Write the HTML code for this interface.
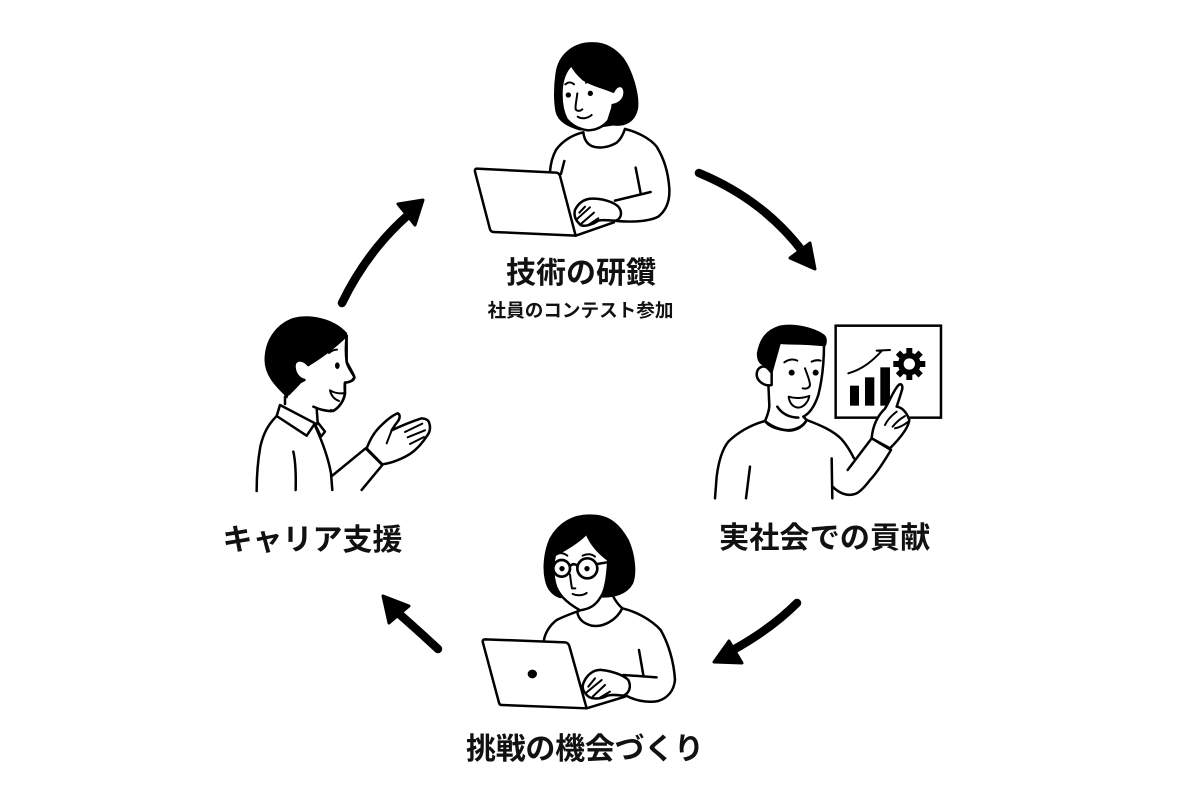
<!DOCTYPE html>
<html lang="ja"><head><meta charset="utf-8"><style>
html,body{margin:0;padding:0;background:#fff;width:1200px;height:793px;overflow:hidden}
svg{display:block}
text{font-family:"Liberation Sans","Noto Sans CJK JP",sans-serif;font-weight:700;fill:#111}
.l{fill:none;stroke:#000;stroke-width:7.5;stroke-linecap:round;stroke-linejoin:round}
.w{fill:#fff;stroke:#000;stroke-width:7.5;stroke-linecap:round;stroke-linejoin:round}
.k{fill:#000;stroke:#000;stroke-width:3;stroke-linejoin:round}
.t{fill:none;stroke:#000;stroke-width:6;stroke-linecap:round;stroke-linejoin:round}
</style></head><body>
<svg width="1200" height="793" viewBox="0 0 1200 793" xmlns="http://www.w3.org/2000/svg">
<rect width="1200" height="793" fill="#fff"/>

<!-- Figure 1 -->
<g transform="translate(460,30) scale(.3333)">
<path class="k" d="M400,38C340,36 295,75 288,130C282,170 282,215 288,245C295,275 325,290 360,300L460,285C495,290 525,275 533,235C538,190 515,120 490,85C465,55 435,38 400,38Z"/>
<path class="w" d="M335,105C318,120 308,145 305,175C303,205 305,240 320,268C335,285 355,298 385,301C410,300 430,290 445,272L460,225C485,220 497,200 493,180C488,163 470,163 460,185C430,172 395,165 370,148C355,135 342,120 335,105Z"/>
<path class="l" d="M458,225L456,282"/>
<circle cx="325" cy="195" r="8"/><circle cx="391" cy="190" r="8"/>
<path class="t" d="M316,163C325,155 335,156 342,163M378,158C390,152 402,155 412,163"/>
<path class="t" d="M352,190C350,210 345,228 347,238C352,245 362,243 367,238"/>
<path class="t" d="M353,260C365,268 382,266 395,255"/>
<path class="l" d="M370,307C372,325 378,340 395,348C420,358 450,350 470,338C482,328 490,312 495,297"/>
<path class="l" d="M370,307C335,315 305,335 288,360C278,378 272,400 270,425M495,297C530,305 570,325 590,350C612,385 625,430 628,475C630,510 620,540 595,560C565,575 520,577 470,573"/>
<path class="l" d="M313,393L303,432M527,413L542,490M465,512L572,486"/>
<path class="w" d="M50,416L288,428C295,428 298,432 300,438L347,617L100,606C95,606 92,602 90,598L45,425C44,419 46,416 50,416Z"/>
<path class="l" d="M347,617L462,577"/>
<path class="w" d="M345,540C355,520 370,507 395,506C425,505 460,515 475,530C488,545 485,565 468,572C450,572 430,568 415,572C400,582 375,592 362,585C350,575 340,560 345,540Z"/>
<path class="t" d="M358,548L375,530M350,568L390,532M365,580L402,548M385,585L415,565"/>
</g>

<!-- Figure 2 -->
<g transform="translate(700,310) scale(.3333)">
<rect x="407" y="47" width="316" height="276" fill="#fff" stroke="#000" stroke-width="7.5"/>
<rect x="450" y="227" width="27" height="60"/><rect x="495" y="202" width="28" height="85"/><rect x="541" y="172" width="29" height="115"/>
<path class="t" d="M445,190C490,177 520,150 545,123L530,122L570,120"/>
<g transform="translate(628,162)">
<circle r="34"/>
<g stroke="#000" stroke-width="18"><path d="M0,-48V48M-48,0H48M-34,-34L34,34M-34,34L34,-34"/></g>
<circle r="17" fill="#fff"/>
</g>
<path d="M195,335L320,330L420,380L462,445L515,385L573,420L510,510L470,552L430,555L398,530L397,565L45,565L60,440L120,365Z" fill="#fff"/>
<path class="w" d="M515,385C518,350 530,320 555,296C570,270 582,240 595,226C603,218 610,226 606,240C600,260 594,278 590,290C605,292 620,305 628,330C625,355 600,385 570,415Z"/>
<path class="t" d="M555,345C565,325 578,315 590,305M578,350C590,335 603,325 615,318M585,355C600,352 612,345 625,335"/>
<path class="l" d="M515,385L573,420C555,450 530,490 510,510C495,530 480,547 465,552C440,560 415,548 398,530"/>
<path class="l" d="M515,385L443,480"/>
<path class="l" d="M320,330C360,345 400,362 425,388C440,405 452,425 462,445M195,333C150,345 110,370 85,395C65,420 55,460 50,500L45,565M150,470L138,565M395,445L397,565"/>
<path class="l" d="M195,333C205,348 225,358 265,362C290,362 310,350 320,330"/>
<path class="w" d="M205,220L208,288C207,305 200,322 195,333C215,350 245,362 270,360C295,358 312,345 320,330L310,320C330,310 345,285 355,255C365,215 372,160 372,105L240,95Z"/>
<path class="k" d="M172,130C180,85 200,60 240,48C280,40 340,52 372,75C382,85 380,100 375,108C345,100 290,105 235,100C225,125 218,160 215,187L190,165C175,160 172,145 172,130Z"/>
<path class="w" d="M215,225C195,230 172,215 170,195C170,175 185,165 200,172C208,178 212,187 215,187Z"/>
<circle cx="275" cy="188" r="9"/><circle cx="347" cy="188" r="9"/>
<path class="t" d="M253,157C265,148 280,146 292,152M335,155C345,150 352,149 362,152"/>
<path class="t" d="M315,175C322,195 330,212 330,225C328,235 318,237 308,235"/>
<path d="M266,260C285,266 310,265 328,258C325,275 312,292 295,293C280,292 268,280 266,260Z" fill="#fff" stroke="#000" stroke-width="6" stroke-linejoin="round"/>
<path d="M232,290C245,310 265,322 295,323" class="l"/>
</g>

<!-- Figure 3 -->
<g transform="translate(470,505) scale(.3333)">
<path class="k" d="M370,30C310,25 265,55 240,100C222,140 218,190 226,225C232,255 250,272 270,278L395,276C430,278 470,268 488,235C500,205 495,150 475,105C450,60 420,32 370,30Z"/>
<path class="w" d="M350,85C325,112 290,132 255,150C248,175 248,205 255,235C262,265 285,290 330,316C355,312 375,305 392,276C405,260 412,225 415,165C395,150 365,125 350,85Z"/>
<path class="l" d="M430,275C438,290 448,302 457,310"/>
<path class="l" d="M322,322C325,340 338,355 365,362C400,368 440,345 457,310"/>
<path class="l" d="M330,316C322,320 290,330 260,345C238,362 225,385 222,405M457,310C500,320 545,345 572,375C595,415 612,470 615,525C612,555 595,578 565,588C530,595 490,585 465,570"/>
<path class="l" d="M507,435L520,510M460,510L560,517"/>
<path class="w" d="M45,403L285,412C292,413 296,417 298,423L350,610L95,600C90,600 88,597 87,593L38,410C38,405 41,403 45,403Z"/>
<ellipse cx="187" cy="507" rx="14" ry="13"/>
<path class="l" d="M350,610L465,575"/>
<path class="w" d="M340,535C350,510 370,493 395,495C425,498 460,510 475,525C485,545 478,565 460,572C440,570 425,568 412,572C395,582 365,585 352,572C340,560 335,550 340,535Z"/>
<path class="t" d="M355,545L375,520M350,562L395,525M368,575L405,540M390,578L420,560"/>
<circle cx="275" cy="190" r="25" fill="#fff" stroke="#000" stroke-width="8"/>
<circle cx="352" cy="190" r="30" fill="#fff" stroke="#000" stroke-width="8"/>
<path class="l" d="M300,183C308,176 315,176 322,182M382,177L412,172"/>
<circle cx="276" cy="191" r="8"/><circle cx="351" cy="191" r="8"/>
<path class="t" d="M255,150C265,142 280,142 292,152M338,152C350,146 365,146 375,155"/>
<path class="t" d="M300,208C302,225 304,240 306,250L316,250"/>
<path class="t" d="M308,267C322,273 338,272 350,264"/>
</g>

<!-- Figure 4 -->
<g transform="translate(245,305) scale(.3333)">
<path class="k" d="M60,165C60,110 90,60 145,40C195,28 265,40 305,85L300,105L200,240L125,275C100,250 60,215 60,165Z"/>
<path class="w" d="M305,92C285,110 255,140 190,180C175,155 148,160 148,185C150,210 165,225 178,225L165,232C150,250 135,262 125,275L150,290L265,318C285,305 298,285 300,265L300,233C315,232 330,225 328,215C318,200 305,180 305,170Z"/>
<path fill="#fff" stroke="none" d="M130,272L250,230L255,315L215,308L215,345L120,300Z"/>
<path class="l" d="M305,92C302,120 302,150 305,170C312,185 322,200 328,215C325,228 312,232 300,233C298,240 299,250 300,265C295,290 280,312 262,318C240,320 220,312 205,305"/>
<path class="l" d="M178,225C165,222 150,210 148,185C148,165 170,158 190,180"/>
<path class="l" d="M120,275L120,297M215,310L218,352"/>
<path class="w" d="M105,300L210,355L185,392L95,333Z"/>
<path class="w" d="M218,352L240,380L228,395L212,362Z"/>
<path class="l" d="M95,333C70,358 55,385 46,425C38,470 35,515 35,558M210,362C232,410 250,460 258,505L262,555M145,440C153,475 153,515 152,555"/>
<ellipse cx="277" cy="182" rx="7" ry="10"/>
<path class="t" d="M252,144C260,137 268,134 276,134"/>
<path class="t" d="M255,256C270,265 285,267 300,264M255,256C258,270 265,282 282,288"/>
<path class="w" d="M365,430C375,405 385,385 405,365C425,345 445,330 458,325C466,328 466,340 458,350C450,360 445,368 440,376C470,362 505,348 530,340C540,340 550,345 552,352C557,365 556,378 548,390C535,410 520,430 498,445C475,460 440,475 412,478Z"/>
<path class="t" d="M480,381L532,356M488,397L540,376M495,417L537,396M440,376C435,390 430,402 425,415"/>
<path class="l" d="M262,512L362,430L412,480L350,555"/>
</g>

<!-- Arrows -->
<g fill="none" stroke="#000" stroke-width="8.5" stroke-linecap="round">
<path d="M699,173C740,190 775,215 803,252"/>
<path d="M797,603C780,620 760,635 733,650"/>
<path d="M438,649C425,637 412,625 398,613"/>
<path d="M342,303C358,270 380,240 407,216"/>
</g>
<g fill="#000" stroke="#000" stroke-width="3" stroke-linejoin="round">
<path d="M810,243L815,269L790,258Z"/>
<path d="M729,641L742,663L714,662Z"/>
<path d="M383,596L409,606L389,623Z"/>
<path d="M423,200L398,204L415,225Z"/>
</g>

<!-- Labels -->
<text x="506" y="283" font-size="30">技術の研鑽</text>
<text x="487.5" y="317" font-size="18.6">社員のコンテスト参加</text>
<text x="719" y="548" font-size="30.2">実社会での貢献</text>
<text x="222.5" y="550" font-size="30">キャリア支援</text>
<text x="466" y="759" font-size="30" textLength="238">挑戦の機会づくり</text>
</svg>
</body></html>
